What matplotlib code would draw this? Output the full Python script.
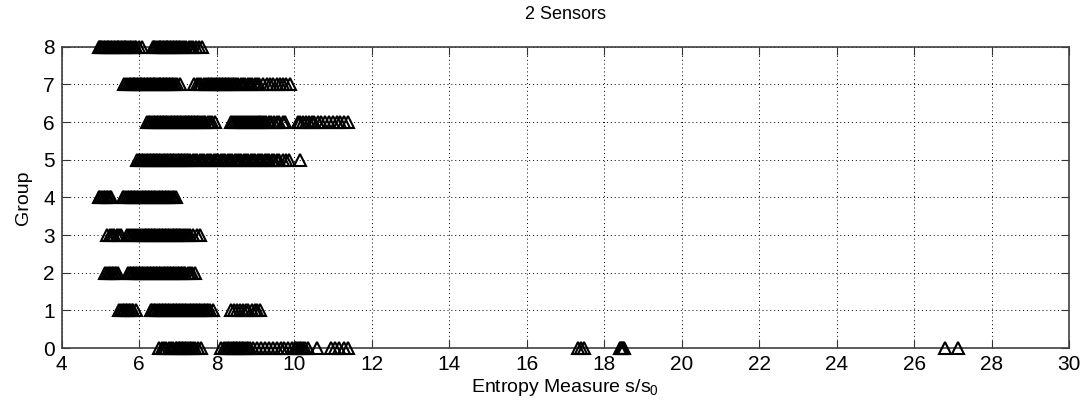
import matplotlib.pyplot as plt

plt.rcParams['font.family'] = ['Liberation Sans', 'DejaVu Sans']
plt.rcParams['mathtext.fontset'] = 'custom'
plt.rcParams['mathtext.rm'] = 'Liberation Sans'
plt.rcParams['mathtext.it'] = 'Liberation Sans'

# entropy values per group
g8 = [4.95, 4.98, 5.02, 5.05, 5.09, 5.12, 5.16, 5.20, 5.23, 5.27, 5.31, 5.34, 5.38,
      5.42, 5.45, 5.49, 5.53, 5.56, 5.60, 5.64, 5.67, 5.71, 5.75, 5.79, 5.83, 5.88,
      5.93, 6.00, 6.06,
      6.35, 6.39, 6.42, 6.46, 6.50, 6.53, 6.57, 6.61, 6.64, 6.68, 6.72, 6.75, 6.79,
      6.83, 6.86, 6.90, 6.94, 6.98, 7.02, 7.06, 7.10, 7.16, 7.22, 7.28, 7.33, 7.40,
      7.46, 7.54, 7.62]
g7 = [5.60, 5.66, 5.71, 5.75, 5.79, 5.83, 5.86, 5.90, 5.94, 5.97, 6.01, 6.05, 6.08,
      6.12, 6.16, 6.19, 6.23, 6.27, 6.31, 6.35, 6.38, 6.42, 6.46, 6.50, 6.53, 6.57,
      6.61, 6.65, 6.68, 6.72, 6.76, 6.80, 6.84, 6.88, 6.92, 6.97, 7.05,
      7.41, 7.48, 7.54, 7.60, 7.66, 7.72, 7.77, 7.81, 7.85, 7.89, 7.93, 7.97, 8.01,
      8.05, 8.09, 8.13, 8.17, 8.21, 8.25, 8.29, 8.33, 8.37, 8.41, 8.45, 8.50, 8.56,
      8.62, 8.68, 8.74, 8.80, 8.86, 8.92, 8.98, 9.04, 9.10, 9.20, 9.30, 9.38, 9.46,
      9.56, 9.64, 9.72, 9.80, 9.89]
g6 = [6.21, 6.25, 6.29, 6.33, 6.37, 6.41, 6.45, 6.49, 6.53, 6.57, 6.61, 6.65, 6.69,
      6.73, 6.77, 6.81, 6.85, 6.89, 6.93, 6.97, 7.01, 7.05, 7.09, 7.13, 7.17, 7.21,
      7.25, 7.29, 7.33, 7.37, 7.41, 7.45, 7.49, 7.53, 7.57, 7.61, 7.66, 7.71, 7.77,
      7.83, 7.89, 7.95,
      8.37, 8.43, 8.48, 8.53, 8.58, 8.63, 8.68, 8.73, 8.78, 8.83, 8.88, 8.93, 8.98,
      9.03, 9.08, 9.13, 9.18, 9.23, 9.28, 9.34, 9.40, 9.47, 9.55, 9.62, 9.70, 9.76,
      10.09, 10.15, 10.22, 10.30, 10.38, 10.45, 10.52, 10.62, 10.70, 10.80, 10.90,
      11.00, 11.10, 11.18, 11.28, 11.39]
g5 = [5.95, 5.99, 6.03, 6.07, 6.11, 6.15, 6.19, 6.23, 6.27, 6.31, 6.35, 6.39, 6.43,
      6.47, 6.51, 6.55, 6.59, 6.63, 6.67, 6.71, 6.75, 6.79, 6.83, 6.87, 6.91, 6.95,
      6.99, 7.03, 7.07, 7.11, 7.15, 7.19, 7.23, 7.27, 7.32, 7.38, 7.44, 7.50, 7.56,
      7.62, 7.68, 7.74, 7.80, 7.86, 7.92, 7.98, 8.04, 8.10, 8.16, 8.22, 8.28, 8.34,
      8.40, 8.46, 8.52, 8.58, 8.64, 8.70, 8.76, 8.82, 8.88, 8.94, 9.00, 9.06, 9.12,
      9.18, 9.24, 9.30, 9.36, 9.42, 9.48, 9.55, 9.62, 9.70, 9.78, 9.86, 10.16]
g4 = [4.96, 5.00, 5.04, 5.08, 5.12, 5.16, 5.20, 5.24, 5.28,
      5.58, 5.62, 5.66, 5.70, 5.74, 5.78, 5.82, 5.86, 5.90, 5.94, 5.98, 6.02, 6.06,
      6.10, 6.14, 6.18, 6.22, 6.26, 6.30, 6.34, 6.38, 6.42, 6.46, 6.50, 6.54, 6.58,
      6.62, 6.66, 6.70, 6.74, 6.78, 6.82, 6.86, 6.90, 6.96]
g3 = [5.17, 5.24, 5.30, 5.36, 5.42, 5.48, 5.54,
      5.69, 5.74, 5.79, 5.84, 5.89, 5.94, 5.99, 6.04, 6.09, 6.14, 6.18, 6.22, 6.26,
      6.30, 6.34, 6.38, 6.42, 6.46, 6.50, 6.54, 6.58, 6.62, 6.66, 6.70, 6.74, 6.78,
      6.82, 6.86, 6.90, 6.94, 6.98, 7.02, 7.06, 7.10, 7.15, 7.20, 7.26, 7.32, 7.40,
      7.48, 7.56]
g2 = [5.13, 5.17, 5.21, 5.25, 5.29, 5.33, 5.37, 5.41, 5.46,
      5.71, 5.75, 5.79, 5.83, 5.87, 5.91, 5.95, 5.99, 6.03, 6.07, 6.11, 6.15, 6.19,
      6.23, 6.27, 6.31, 6.35, 6.39, 6.43, 6.47, 6.51, 6.55, 6.59, 6.63, 6.67, 6.71,
      6.75, 6.79, 6.83, 6.87, 6.91, 6.95, 6.99, 7.03, 7.07, 7.11, 7.15, 7.19, 7.25,
      7.31, 7.37, 7.43]
g1 = [5.48, 5.53, 5.57, 5.61, 5.65, 5.69, 5.73, 5.77, 5.81, 5.85, 5.92,
      6.30, 6.34, 6.38, 6.42, 6.46, 6.50, 6.54, 6.58, 6.62, 6.66, 6.70, 6.74, 6.78,
      6.82, 6.86, 6.90, 6.94, 6.98, 7.02, 7.06, 7.10, 7.14, 7.18, 7.22, 7.26, 7.30,
      7.34, 7.38, 7.42, 7.46, 7.50, 7.54, 7.58, 7.62, 7.66, 7.70, 7.74, 7.78, 7.84,
      7.91,
      8.37, 8.45, 8.52, 8.60, 8.68, 8.75, 8.82, 8.90, 8.98, 9.05, 9.12]
g0 = [6.52, 6.58, 6.64, 6.70, 6.76, 6.82, 6.88, 6.94, 6.98, 7.02, 7.06, 7.10, 7.14,
      7.18, 7.22, 7.26, 7.30, 7.34, 7.38, 7.44, 7.52, 7.60,
      8.11, 8.18, 8.25, 8.29, 8.33, 8.37, 8.41, 8.45, 8.49, 8.53, 8.57, 8.61, 8.65,
      8.69, 8.73, 8.77, 8.82, 8.87, 8.95, 9.05, 9.15, 9.25, 9.35, 9.45, 9.55, 9.65,
      9.75, 9.85, 9.95, 10.02, 10.06, 10.10, 10.14, 10.18, 10.22, 10.28, 10.35, 10.58,
      10.95, 11.05, 11.15, 11.28, 11.40,
      17.33, 17.41, 17.49, 18.40, 18.43, 18.46, 18.49, 18.52, 26.79, 27.13]

groups = [g0, g1, g2, g3, g4, g5, g6, g7, g8]

fig = plt.figure(figsize=(10.92, 4.15), dpi=100)
ax = fig.add_axes([0.0565, 0.1614, 0.9225, 0.7261])

for i, vals in enumerate(groups):
    ax.plot(vals, [i] * len(vals), linestyle='none', marker='^', ms=8.5,
            mfc='none', mec='black', mew=1.5, clip_on=False, zorder=3,
            antialiased=False)

ax.set_xlim(4, 30)
ax.set_ylim(0, 8)
ax.set_xticks(range(4, 31, 2))
ax.set_yticks(range(0, 9))
ax.grid(True, color='black', linestyle=(0, (1, 3)), linewidth=0.7)
ax.tick_params(direction='in', top=True, right=True, length=6, width=0.8,
               labelsize=15, colors='#333333', labelcolor='black', pad=5)
for s in ax.spines.values():
    s.set_color('#404040')
    s.set_linewidth(1.2)

ax.set_title('2 Sensors', fontsize=13, pad=20)
ax.set_xlabel('Entropy Measure s/s$_0$', fontsize=14, labelpad=2)
ax.set_ylabel('Group', fontsize=14, labelpad=8)

fig.savefig('out.png', dpi=100)
